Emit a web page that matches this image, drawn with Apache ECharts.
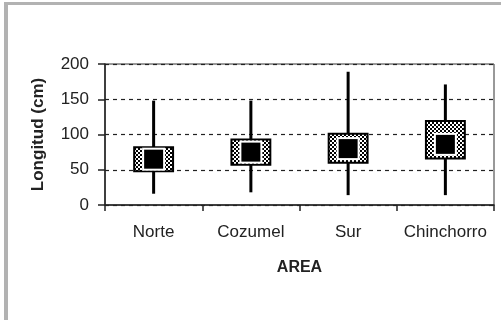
<!DOCTYPE html>
<html>
<head>
<meta charset="utf-8">
<script src="https://cdn.jsdelivr.net/npm/echarts@6/dist/echarts.min.js"></script>
<style>
html, body { margin: 0; padding: 0; background: #fff; }
#chart { width: 501px; height: 320px; }
</style>
</head>
<body>
<div id="chart"></div>
<script>
// datos por area
var categories = ['Norte', 'Cozumel', 'Sur', 'Chinchorro'];
var minVals  = [16, 18, 14, 14];
var q1Vals   = [48, 57, 60, 66];
var q3Vals   = [82, 93, 101, 119];
var maxVals  = [148, 148, 189, 171];
var meanVals = [65, 75, 80, 86];
var yTicks   = [0, 50, 100, 150, 200];

// trama de cuadritos para la caja
function makePattern() {
	var c = document.createElement('canvas');
	c.width = 4; c.height = 4;
	var ctx = c.getContext('2d');
	ctx.fillStyle = '#000';
	ctx.fillRect(0, 0, 4, 4);
	ctx.fillStyle = '#fff';
	ctx.fillRect(0, 0, 2, 2);
	ctx.fillRect(2, 2, 2, 2);
	return c;
}
var pattern = { image: makePattern(), repeat: 'repeat' };

var rows = [];
for (var i = 0; i < categories.length; i++) {
	rows.push([i, minVals[i], q1Vals[i], q3Vals[i], maxVals[i], meanVals[i]]);
}

function renderBox(params, api) {
	var idx = api.value(0);
	var pLow = api.coord([idx, api.value(1)]);
	var pQ1 = api.coord([idx, api.value(2)]);
	var pQ3 = api.coord([idx, api.value(3)]);
	var pHigh = api.coord([idx, api.value(4)]);
	var pMean = api.coord([idx, api.value(5)]);
	var w = api.size([1, 0])[0] * 0.4;
	var x = pQ1[0];
	var inner = 19;
	return {
		type: 'group',
		children: [
			{
				type: 'line',
				shape: { x1: x, y1: pLow[1], x2: x, y2: pHigh[1] },
				style: { stroke: '#000', lineWidth: 3 }
			},
			{
				type: 'rect',
				shape: { x: x - w / 2, y: pQ3[1], width: w, height: pQ1[1] - pQ3[1] },
				style: { fill: pattern, stroke: '#000', lineWidth: 2 }
			},
			{
				type: 'rect',
				shape: { x: x - inner / 2 - 2, y: pMean[1] - inner / 2 - 2, width: inner + 4, height: inner + 4 },
				style: { fill: '#fff' }
			},
			{
				type: 'rect',
				shape: { x: x - inner / 2, y: pMean[1] - inner / 2, width: inner, height: inner },
				style: { fill: '#000' }
			}
		]
	};
}

var myChart = echarts.init(document.getElementById('chart'));
var option = {
	backgroundColor: '#fff',
	animation: false,
	textStyle: { fontFamily: 'Liberation Sans, Arial, sans-serif' },
	graphic: [
		{ type: 'rect', shape: { x: 4, y: 2, width: 4, height: 318 }, style: { fill: '#b2b2b2' } },
		{ type: 'rect', shape: { x: 4, y: 2, width: 497, height: 3 }, style: { fill: '#b2b2b2' } }
	],
	grid: {
		left: 105, right: 7, top: 64, bottom: 115,
		show: true, borderColor: '#333', borderWidth: 1, backgroundColor: 'transparent'
	},
	xAxis: {
		type: 'category',
		data: categories,
		name: 'AREA',
		nameLocation: 'middle',
		nameGap: 55,
		nameTextStyle: { fontSize: 16, fontWeight: 'bold', color: '#222' },
		axisLine: { lineStyle: { color: '#222', width: 1.5 } },
		axisTick: { show: true, alignWithLabel: false, length: 6, lineStyle: { color: '#222', width: 1.5 } },
		axisLabel: { fontSize: 17, color: '#222', margin: 19, interval: 0 },
		splitLine: { show: false }
	},
	yAxis: {
		type: 'value',
		min: yTicks[0],
		max: yTicks[yTicks.length - 1],
		interval: 50,
		name: 'Longitud (cm)',
		nameLocation: 'middle',
		nameGap: 58,
		nameTextStyle: { fontSize: 17, fontWeight: 'bold', color: '#222' },
		axisLine: { show: true, lineStyle: { color: '#222', width: 1.5 } },
		axisTick: { show: true, inside: false, length: 7, lineStyle: { color: '#222', width: 1.5 } },
		axisLabel: { fontSize: 17, color: '#222', margin: 16 },
		splitLine: { show: true, lineStyle: { color: '#222', width: 1.2, type: [4, 4] } }
	},
	series: [
		{
			type: 'custom',
			renderItem: renderBox,
			encode: { x: 0, y: [1, 2, 3, 4, 5] },
			data: rows,
			z: 5
		}
	]
};
myChart.setOption(option);
</script>
</body>
</html>
